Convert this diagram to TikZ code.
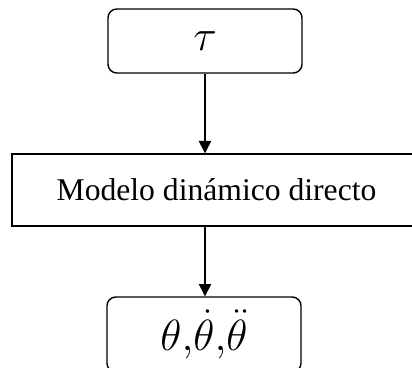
\documentclass[tikz,border=0pt]{standalone}
\usepackage{fontspec}
\setmainfont{Liberation Serif}
\usepackage{amsmath}
\usetikzlibrary{arrows.meta}

\begin{document}
\begin{tikzpicture}[
  io/.style={draw, rounded corners=5pt, line width=0.8pt, align=center,
             minimum width=3.88cm, inner sep=0pt},
  blk/.style={draw, line width=0.8pt, align=center, inner sep=0pt,
              font=\fontsize{18}{22}\selectfont},
  dr/.style={-{Triangle[length=7pt,width=7pt]}, line width=0.8pt}]

\useasboundingbox (0,0) rectangle (8.24,-7.34);

% ---- input, model, output ----------------------------------------------
\node[io, minimum height=1.28cm] (tau) at (4.1,-0.82) {\fontsize{25}{30}\selectfont$\tau$};
\node[blk, minimum width=8.18cm, minimum height=1.44cm] (mdd) at (4.33,-3.8) {Modelo dinámico directo};
\node[io, minimum height=1.5cm] (th) at (4.08,-6.69) {\fontsize{29}{32}\selectfont$\theta{,}\dot{\theta}{,}\ddot{\theta}$};

\draw[dr] (tau.south) -- (tau.south |- mdd.north);
\draw[dr] (mdd.south -| tau.south) -- (th.north -| tau.south);

\end{tikzpicture}
\end{document}
